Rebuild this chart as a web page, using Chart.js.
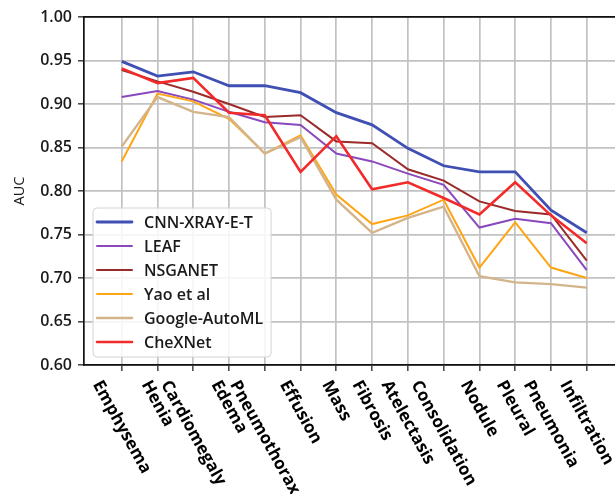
<!DOCTYPE html>
<html>
<head>
<meta charset="utf-8">
<script src="https://cdn.jsdelivr.net/npm/chart.js@4.4.1/dist/chart.umd.min.js"></script>
<style>
  html, body { margin: 0; padding: 0; background: #fff; }
  #wrap { width: 615px; height: 494px; }
</style>
</head>
<body>
<div id="wrap"><canvas id="chart" width="615" height="494"></canvas></div>
<script>
// Disease categories along the x axis
const categories = ['Emphysema', 'Henia', 'Cardiomegaly', 'Edema', 'Pneumothorax', 'Effusion', 'Mass',
  'Fibrosis', 'Atelectasis', 'Consolidation', 'Nodule', 'Pleural', 'Pneumonia', 'Infiltration'];

// AUC per model
const cnnXrayET    = [0.949, 0.932, 0.937, 0.921, 0.921, 0.913, 0.890, 0.876, 0.849, 0.829, 0.822, 0.822, 0.778, 0.752];
const leaf         = [0.908, 0.915, 0.905, 0.891, 0.879, 0.876, 0.843, 0.834, 0.820, 0.807, 0.758, 0.768, 0.763, 0.709];
const nsganet      = [0.939, 0.926, 0.914, 0.900, 0.885, 0.887, 0.857, 0.855, 0.825, 0.812, 0.788, 0.777, 0.773, 0.720];
const yaoEtAl      = [0.834, 0.912, 0.903, 0.883, 0.843, 0.864, 0.796, 0.762, 0.772, 0.790, 0.712, 0.764, 0.712, 0.700];
const googleAutoML = [0.851, 0.908, 0.891, 0.885, 0.843, 0.862, 0.790, 0.752, 0.769, 0.782, 0.702, 0.695, 0.693, 0.689];
const cheXNet      = [0.941, 0.924, 0.930, 0.890, 0.887, 0.822, 0.863, 0.802, 0.810, 0.792, 0.773, 0.810, 0.772, 0.740];

// Y axis ticks
const yTicks = [0.60, 0.65, 0.70, 0.75, 0.80, 0.85, 0.90, 0.95, 1.00];

const seriesLabels = ['CNN-XRAY-E-T', 'LEAF', 'NSGANET', 'Yao et al', 'Google-AutoML', 'CheXNet'];
const seriesValues = [cnnXrayET, leaf, nsganet, yaoEtAl, googleAutoML, cheXNet];
const seriesColors = ['#3f4fb3', '#8a48bd', '#9b2a2a', '#ffa514', '#d4b48a', '#f22a2a'];
const seriesWidths = [2.8, 2, 2, 2, 2.4, 2.6];

const X_MIN = -1.054, X_MAX = 13.79;
const gridColor = '#c2c2c2';

// Linear scale whose rotated labels hang down-right from each tick, centred on it
class SlantedLinearScale extends Chart.LinearScale {
  _getXAxisLabelAlignment() { return 'left'; }
  _computeLabelItems(chartArea) {
    const items = super._computeLabelItems(chartArea);
    const widths = this._getLabelSizes().widths;
    const c = Math.cos(Math.abs(this.labelRotation) * Math.PI / 180);
    items.forEach((item, i) => {
      item.options.translation[0] -= (widths[i] || 0) * c / 2;
    });
    return items;
  }
}
SlantedLinearScale.id = 'slantedLinear';
Chart.register(SlantedLinearScale);

// Framed legend in the lower-left corner of the plot
const framedLegend = {
  id: 'framedLegend',
  afterDatasetsDraw(chart) {
    const { ctx, chartArea } = chart;
    const ds = chart.data.datasets;
    ctx.save();
    ctx.font = '600 16px "Open Sans"';
    const textW = Math.max(...ds.map(d => ctx.measureText(d.label).width));
    const left = chartArea.left + 9;
    const bottom = chartArea.bottom - 8;
    const height = 149;
    const top = bottom - height;
    const width = 51 + textW + 8;
    const r = 4;
    ctx.beginPath();
    ctx.moveTo(left + r, top);
    ctx.arcTo(left + width, top, left + width, bottom, r);
    ctx.arcTo(left + width, bottom, left, bottom, r);
    ctx.arcTo(left, bottom, left, top, r);
    ctx.arcTo(left, top, left + width, top, r);
    ctx.closePath();
    ctx.fillStyle = 'rgba(255,255,255,0.85)';
    ctx.fill();
    ctx.strokeStyle = '#d4d4d4';
    ctx.lineWidth = 1;
    ctx.stroke();
    ds.forEach((d, i) => {
      const y = top + 14 + i * 24;
      ctx.beginPath();
      ctx.moveTo(left + 4, y);
      ctx.lineTo(left + 39, y);
      ctx.strokeStyle = d.borderColor;
      ctx.lineWidth = d.borderWidth;
      ctx.lineCap = 'round';
      ctx.stroke();
      ctx.fillStyle = '#1a1a1a';
      ctx.textBaseline = 'middle';
      ctx.textAlign = 'left';
      ctx.fillText(d.label, left + 51, y + 1);
    });
    ctx.restore();
  }
};

const datasets = seriesLabels.map((label, k) => ({
  label,
  data: seriesValues[k].map((v, i) => ({ x: i, y: v })),
  borderColor: seriesColors[k],
  backgroundColor: seriesColors[k],
  borderWidth: seriesWidths[k],
  pointRadius: 0,
  tension: 0,
  fill: false,
  order: seriesLabels.length - k
}));

new Chart(document.getElementById('chart'), {
  type: 'line',
  data: { datasets },
  plugins: [framedLegend],
  options: {
    responsive: false,
    animation: false,
    devicePixelRatio: 1,
    layout: { padding: 0, autoPadding: false },
    plugins: { legend: { display: false }, tooltip: { enabled: false } },
    scales: {
      x: {
        type: 'slantedLinear',
        position: 'bottom',
        min: X_MIN,
        max: X_MAX,
        afterBuildTicks: s => { s.ticks = categories.map((_, i) => ({ value: i })); },
        afterFit: s => { s.height = 129; s.paddingLeft = 0; s.paddingRight = 0; },
        ticks: {
          autoSkip: false,
          minRotation: -61,
          maxRotation: -61,
          padding: 6,
          color: '#000',
          font: { family: 'Open Sans', weight: 'bold', size: 17 },
          callback: v => categories[v]
        },
        grid: { color: gridColor, lineWidth: 1.7, tickLength: 6, tickColor: '#111', tickWidth: 1.2, z: -1 },
        border: { color: '#111', width: 1.7 }
      },
      xTop: {
        type: 'linear',
        position: 'top',
        min: X_MIN,
        max: X_MAX,
        afterFit: s => { s.height = 17; s.paddingLeft = 0; s.paddingRight = 0; },
        ticks: { display: false },
        grid: { display: false },
        border: { color: '#111', width: 1.7 }
      },
      y: {
        type: 'linear',
        min: 0.6,
        max: 1.0,
        afterBuildTicks: s => { s.ticks = yTicks.map(v => ({ value: v })); },
        afterFit: s => { s.width = 84; },
        ticks: {
          padding: 6,
          color: '#1a1a1a',
          font: { family: 'Open Sans', weight: '600', size: 16 },
          callback: v => Number(v).toFixed(2)
        },
        grid: { color: gridColor, lineWidth: 1.7, tickLength: 6, tickColor: '#111', tickWidth: 1.2, z: -1 },
        border: { color: '#111', width: 1.7 },
        title: {
          display: true,
          text: 'AUC',
          color: '#1a1a1a',
          font: { family: 'Open Sans', size: 14.5 },
          padding: { top: 11, bottom: 0 }
        }
      }
    }
  }
});
</script>
</body>
</html>
